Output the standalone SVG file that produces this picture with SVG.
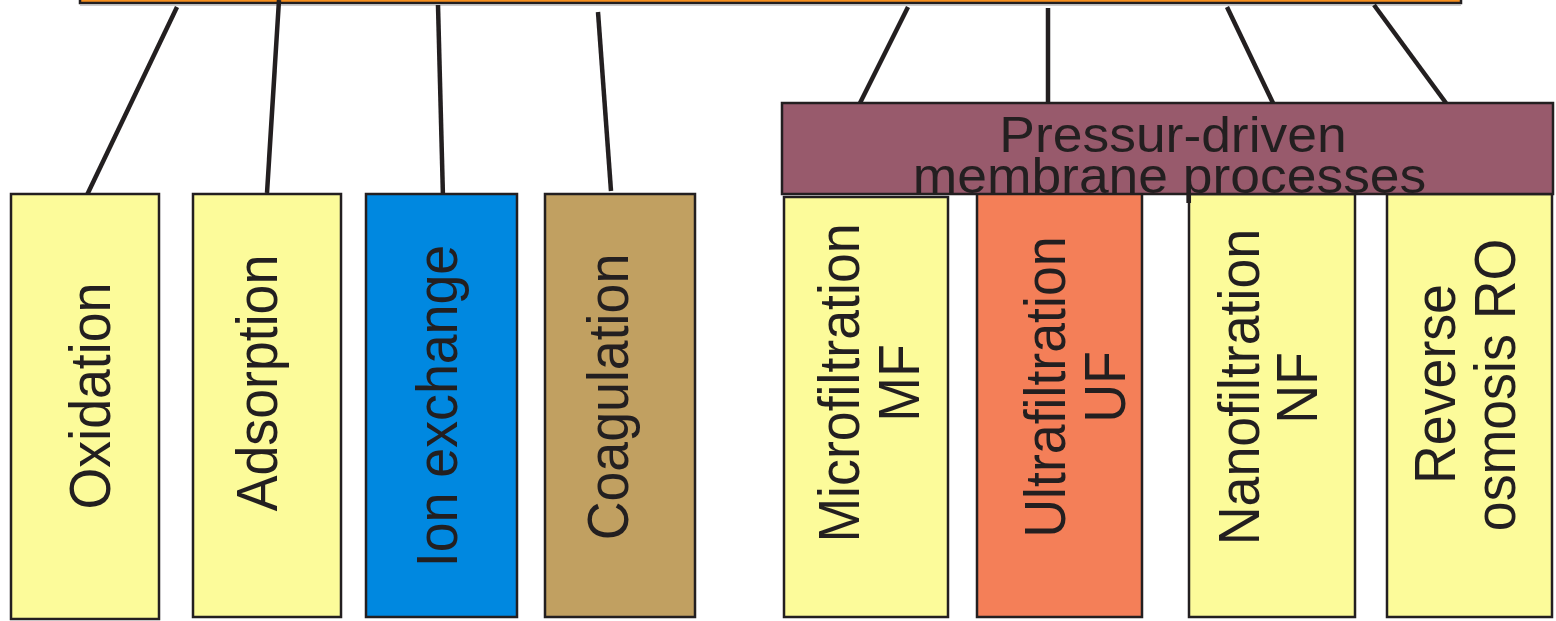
<svg xmlns="http://www.w3.org/2000/svg" width="1556" height="621" viewBox="0 0 1556 621">
<style>
.box{stroke:#231F20;stroke-width:2.5}
.y{fill:#FCFB9A}
.lbl{font-family:"Liberation Sans",Arial,sans-serif;font-size:53.7px;fill:#231F20;text-anchor:middle}
.mlbl{font-family:"Liberation Sans",Arial,sans-serif;font-size:50.4px;fill:#231F20;text-anchor:middle}
.con{stroke:#231F20;stroke-width:4.5;fill:none;stroke-linecap:butt}
</style>
<rect width="1556" height="621" fill="#ffffff"/>
<g id="top">
<rect x="80" y="-20" width="1381" height="23" fill="#F7901E" stroke="#231F20" stroke-width="2.5"/>
<line x1="80" y1="5" x2="1461" y2="5" stroke="#BDBDBD" stroke-width="1.5"/>
</g>
<g id="connectors">
<line class="con" x1="177" y1="7" x2="87" y2="195"/>
<line class="con" x1="279" y1="0" x2="267" y2="193"/>
<line class="con" x1="438" y1="5" x2="443" y2="198"/>
<line class="con" x1="598" y1="12" x2="611" y2="191"/>
<line class="con" x1="908" y1="7" x2="860" y2="103"/>
<line class="con" x1="1048" y1="8" x2="1048" y2="102"/>
<line class="con" x1="1227" y1="7" x2="1273" y2="103"/>
<line class="con" x1="1374" y1="5" x2="1446" y2="103"/>
</g>
<g id="oxidation">
<rect class="box y" x="11" y="194" width="148" height="425"/>
<text class="lbl" transform="translate(110,396) scale(1.054,1) rotate(-90)">Oxidation</text>
</g>
<g id="adsorption">
<rect class="box y" x="193" y="194" width="148" height="423"/>
<text class="lbl" transform="translate(277,383) scale(1.054,1) rotate(-90)">Adsorption</text>
</g>
<g id="ion-exchange">
<rect class="box" x="366" y="194" width="151" height="423" fill="#0088E0"/>
<text class="lbl" transform="translate(457,406) scale(1.054,1) rotate(-90)">Ion exchange</text>
</g>
<g id="coagulation">
<rect class="box" x="545" y="194" width="150" height="423" fill="#C1A061"/>
<text class="lbl" transform="translate(628,397) scale(1.054,1) rotate(-90)">Coagulation</text>
</g>
<g id="mf">
<rect class="box y" x="784" y="197" width="164" height="420"/>
<text class="lbl" transform="translate(859,383) scale(1.054,1) rotate(-90)">Microfiltration</text>
<text class="lbl" transform="translate(919,383) scale(1.054,1) rotate(-90)">MF</text>
</g>
<g id="uf">
<rect class="box" x="977" y="190" width="165" height="427" fill="#F47F58"/>
<text class="lbl" transform="translate(1065,387) scale(1.054,1) rotate(-90)">Ultrafiltration</text>
<text class="lbl" transform="translate(1125,387) scale(1.054,1) rotate(-90)">UF</text>
</g>
<g id="nf">
<rect class="box y" x="1189" y="194" width="166" height="423"/>
<text class="lbl" transform="translate(1259,387) scale(1.054,1) rotate(-90)">Nanofiltration</text>
<text class="lbl" transform="translate(1317,388) scale(1.054,1) rotate(-90)">NF</text>
</g>
<g id="ro">
<rect class="box y" x="1387" y="194" width="165" height="423"/>
<text class="lbl" transform="translate(1455,384) scale(1.054,1) rotate(-90)">Reverse</text>
<text class="lbl" transform="translate(1515,385) scale(1.054,1) rotate(-90)">osmosis RO</text>
</g>
<g id="membrane">
<rect class="box" x="782" y="103" width="771" height="91" fill="#985A6C"/>
<text class="mlbl" transform="translate(1173,151.5) scale(1.06,1)">Pressur-driven</text>
<text class="mlbl" transform="translate(1169.5,193) scale(1.06,1)">membrane processes</text>
</g>
</svg>
